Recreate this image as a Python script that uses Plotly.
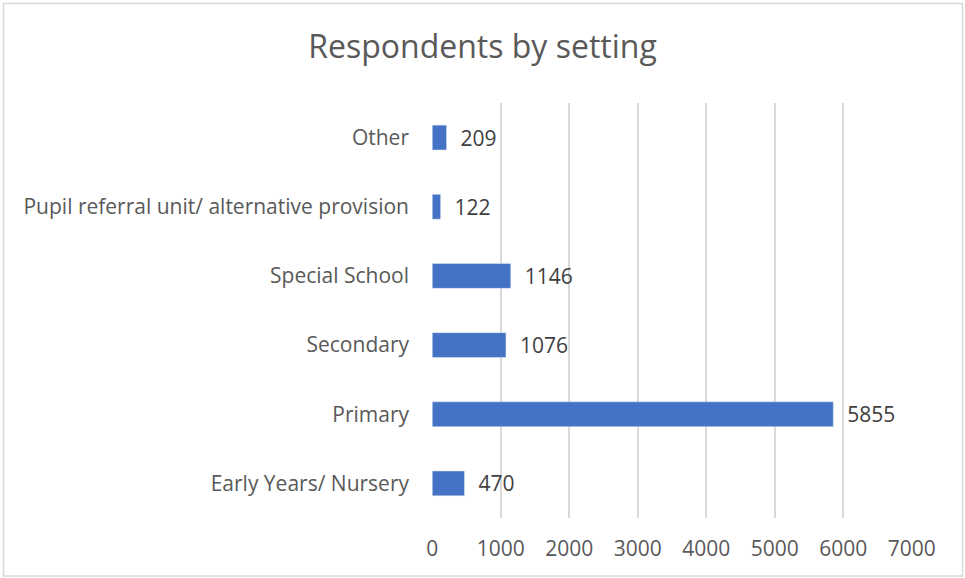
import plotly.graph_objects as go

categories = ["Early Years/ Nursery", "Primary", "Secondary", "Special School",
              "Pupil referral unit/ alternative provision", "Other"]
values = [470, 5855, 1076, 1146, 122, 209]
x_ticks = [0, 1000, 2000, 3000, 4000, 5000, 6000, 7000]

W, H = 965, 578
L, R, T, B = 432, 53, 103, 60
pw, ph = W - L - R, H - T - B

def px_to_paper_x(px):
    return (px - L) / pw

def px_to_paper_y(py):
    return (H - B - py) / ph

FONT = "Open Sans"

fig = go.Figure(go.Bar(
    x=values, y=categories, orientation="h",
    marker=dict(color="#4472C4"),
    width=0.36,
    text=[f"  {v}" for v in values],
    textposition="outside",
    constraintext="none",
    textfont=dict(family=FONT, size=21, color="#404040"),
    cliponaxis=False,
))

fig.update_layout(
    width=W, height=H,
    margin=dict(l=L, r=R, t=T, b=B),
    paper_bgcolor="white", plot_bgcolor="white",
    title=dict(text="Respondents by setting", x=0.5, xref="container", xanchor="center",
               y=1 - 47 / H, yanchor="middle",
               font=dict(family=FONT, size=32, color="#595959")),
    xaxis=dict(range=[-4, 7004], tickvals=x_ticks, showgrid=True,
               gridcolor="#D9D9D9", gridwidth=1.5, zeroline=False,
               showline=False, ticklabelstandoff=16,
               tickfont=dict(family=FONT, size=21, color="#595959")),
    yaxis=dict(showgrid=False, zeroline=False, showline=False,
               ticklabelstandoff=22,
               tickfont=dict(family=FONT, size=21, color="#595959")),
    showlegend=False,
    shapes=[dict(type="rect", xref="paper", yref="paper",
                 x0=px_to_paper_x(3.5), x1=px_to_paper_x(962.5),
                 y0=px_to_paper_y(576), y1=px_to_paper_y(3.5),
                 line=dict(color="#D9D9D9", width=1.5), layer="below")],
)

fig.write_html("out.html", config={"displayModeBar": False},
               post_script="document.body.style.margin='0';document.body.style.padding='0';")
